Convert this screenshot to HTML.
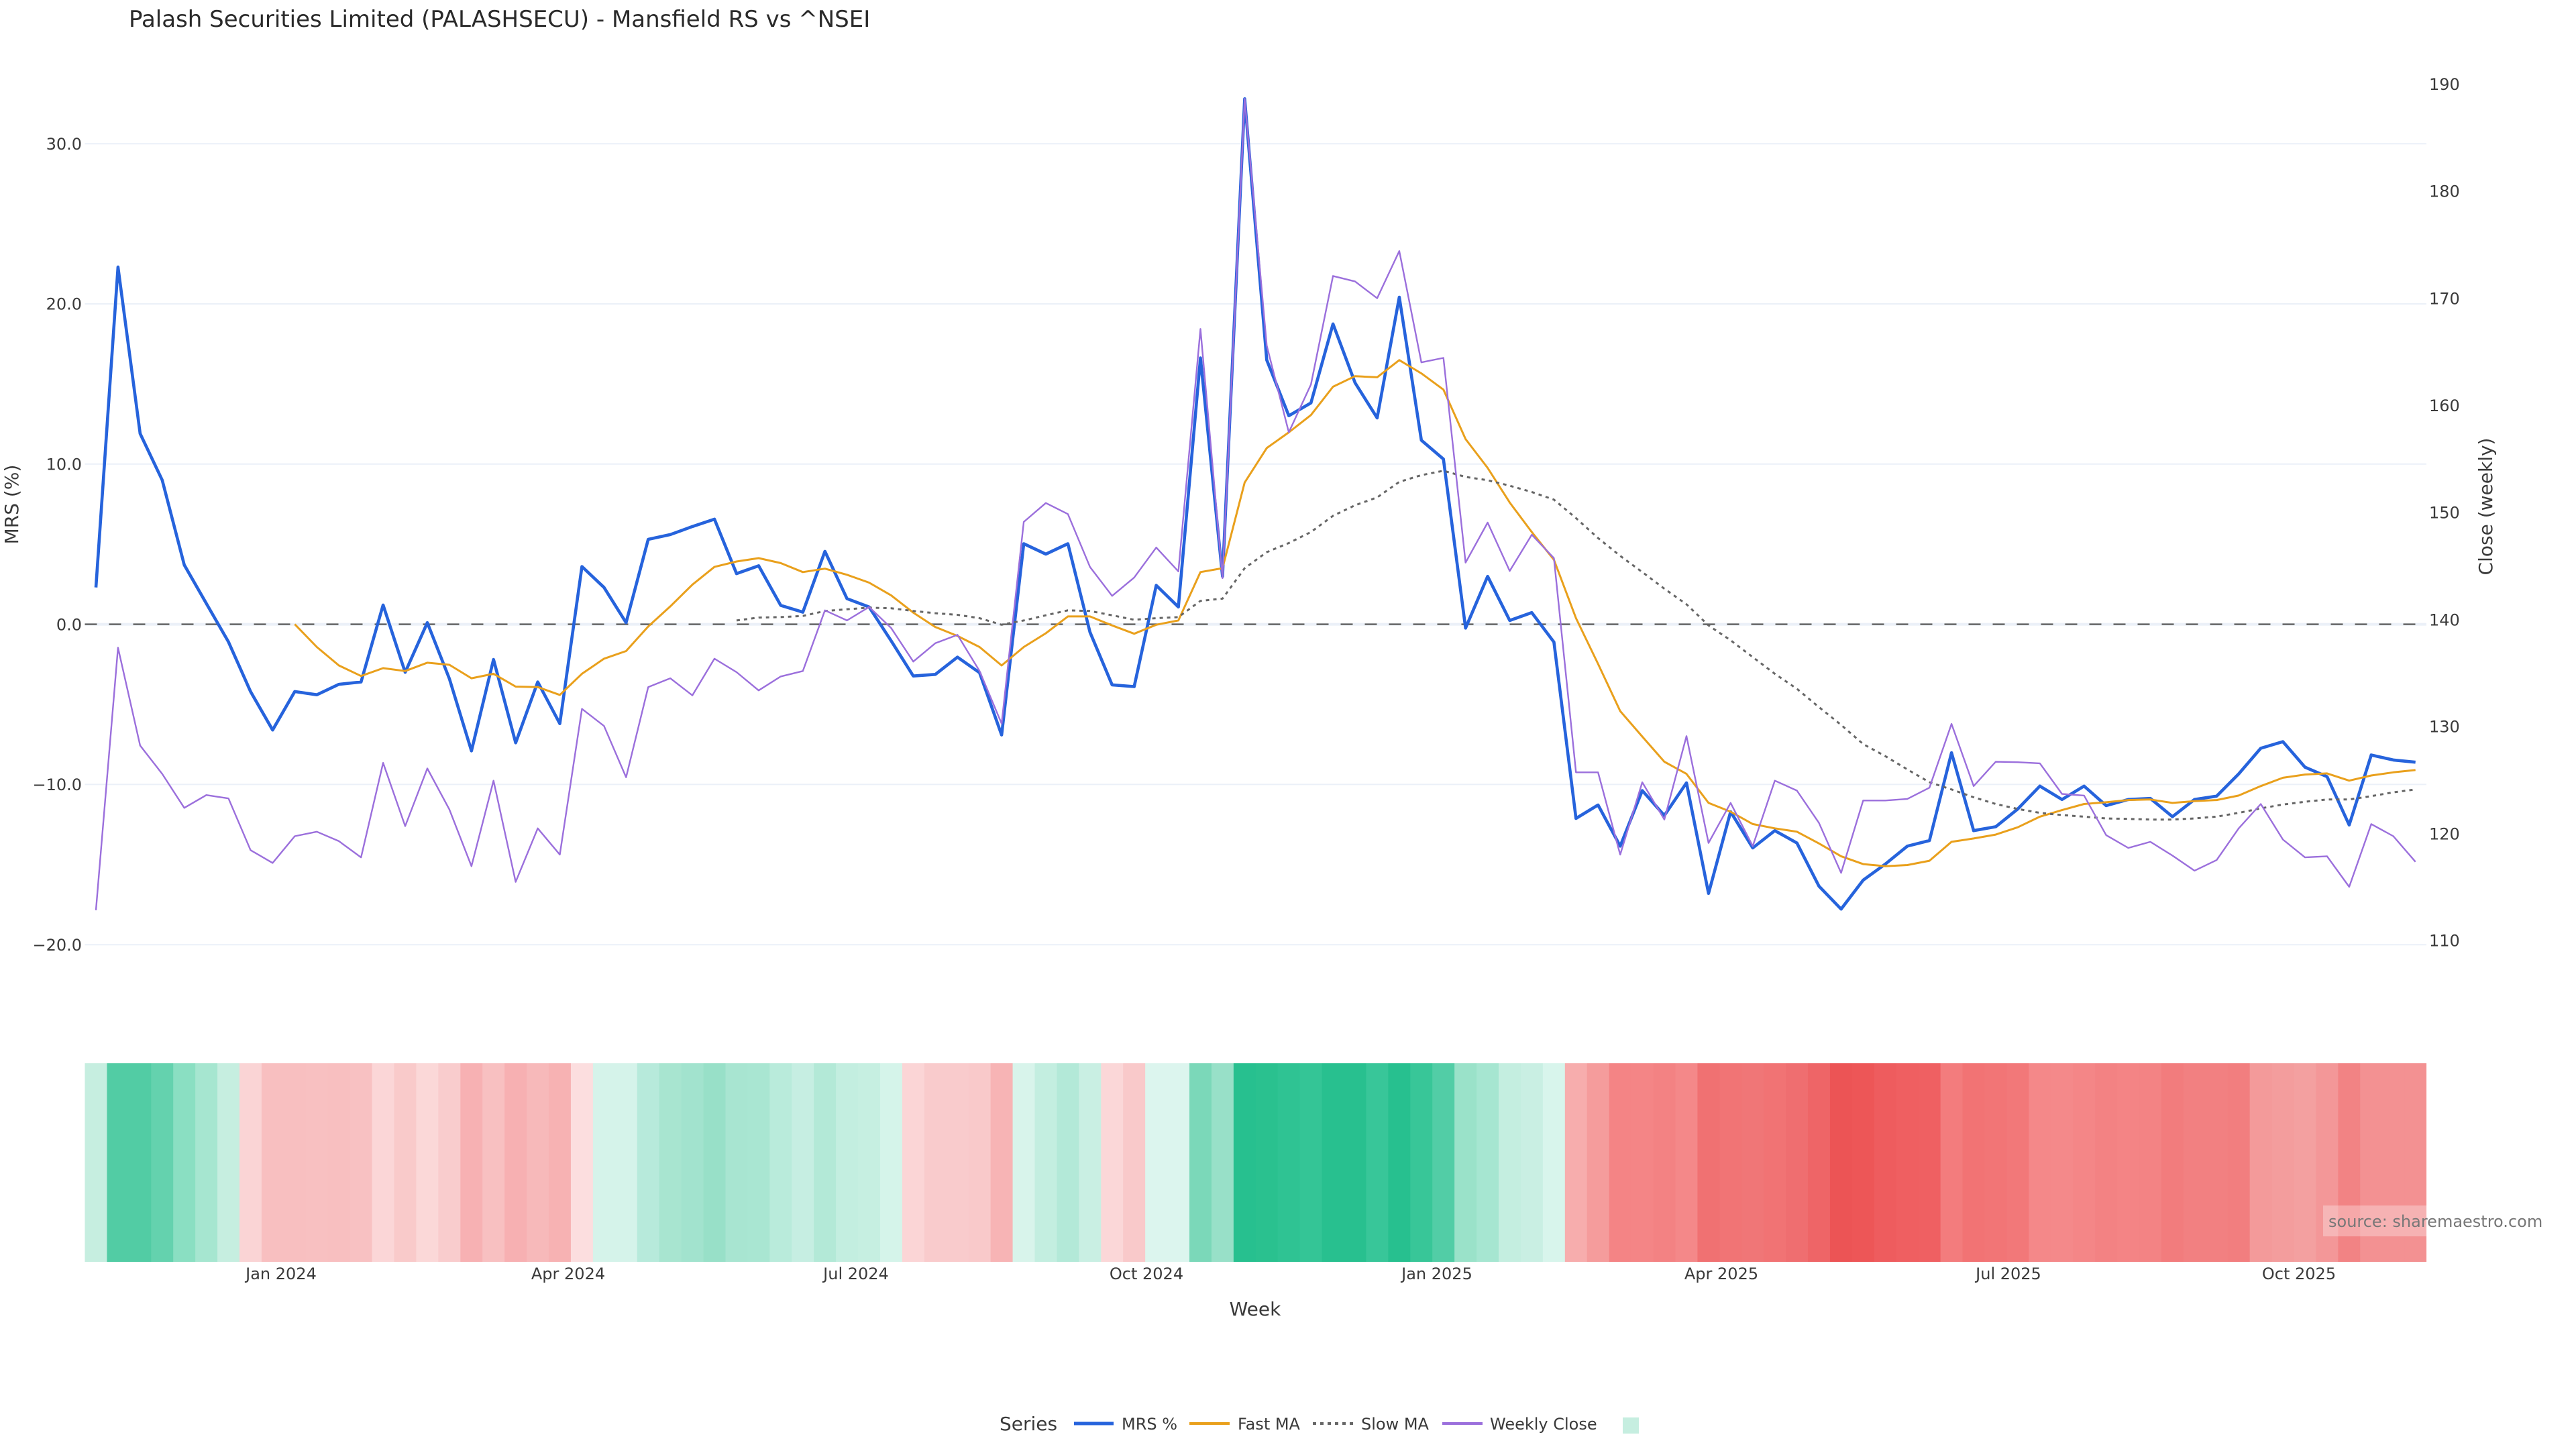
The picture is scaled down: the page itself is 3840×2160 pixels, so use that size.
<!DOCTYPE html>
<html><head><meta charset="utf-8">
<style>
html,body{margin:0;padding:0;background:#fff;}
svg{display:block;}
text{font-family:"DejaVu Sans","Liberation Sans",sans-serif;}
</style></head>
<body>
<svg id="c" width="3840" height="2160" viewBox="0 0 3840 2160" xmlns="http://www.w3.org/2000/svg">
<rect width="3840" height="2160" fill="#fff"/>
<text x="192" y="40" font-size="34" fill="#2a2a2a">Palash Securities Limited (PALASHSECU) - Mansfield RS vs ^NSEI</text>

<g stroke="#EBF0F8" stroke-width="2">
<line x1="126.5" x2="3617" y1="214.2" y2="214.2"/>
<line x1="126.5" x2="3617" y1="453" y2="453"/>
<line x1="126.5" x2="3617" y1="691.8" y2="691.8"/>
<line x1="126.5" x2="3617" y1="1169.4" y2="1169.4"/>
<line x1="126.5" x2="3617" y1="1408.2" y2="1408.2"/>
</g>
<line x1="126.5" x2="3617" y1="930.6" y2="930.6" stroke="#EBF0F8" stroke-width="4"/>
<line x1="126.5" x2="3617" y1="930.6" y2="930.6" stroke="#666" stroke-width="2.5" stroke-dasharray="18 18"/>

<g font-size="24" fill="#3a3a3a" text-anchor="end">
<text x="122" y="222.9">30.0</text>
<text x="122" y="461.7">20.0</text>
<text x="122" y="700.5">10.0</text>
<text x="122" y="939.3">0.0</text>
<text x="122" y="1178.1">−10.0</text>
<text x="122" y="1416.9">−20.0</text>
</g>
<g font-size="24" fill="#3a3a3a">
<text x="3621" y="134.2">190</text>
<text x="3621" y="293.7">180</text>
<text x="3621" y="453.7">170</text>
<text x="3621" y="613.2">160</text>
<text x="3621" y="772.7">150</text>
<text x="3621" y="932.3">140</text>
<text x="3621" y="1091.7">130</text>
<text x="3621" y="1251.4">120</text>
<text x="3621" y="1410.7">110</text>
</g>
<text transform="translate(27,752) rotate(-90)" font-size="28" fill="#3a3a3a" text-anchor="middle">MRS (%)</text>
<text transform="translate(3715,755) rotate(-90)" font-size="28" fill="#3a3a3a" text-anchor="middle">Close (weekly)</text>

<g id="heat"></g>
<g id="lines"></g>

<rect x="3463" y="1797" width="336" height="46" fill="#fff" fill-opacity="0.3"/>
<text x="3471" y="1829" font-size="24" fill="#777">source: sharemaestro.com</text>

<g font-size="24" fill="#3a3a3a" text-anchor="middle">
<text x="419" y="1907">Jan 2024</text>
<text x="847" y="1907">Apr 2024</text>
<text x="1276" y="1907">Jul 2024</text>
<text x="1709" y="1907">Oct 2024</text>
<text x="2142" y="1907">Jan 2025</text>
<text x="2566" y="1907">Apr 2025</text>
<text x="2994" y="1907">Jul 2025</text>
<text x="3427" y="1907">Oct 2025</text>
</g>
<text x="1871" y="1961" font-size="28" fill="#3a3a3a" text-anchor="middle">Week</text>

<text x="1490" y="2132" font-size="28" fill="#3a3a3a">Series</text>
<line x1="1601" x2="1660" y1="2122" y2="2122" stroke="#2663dc" stroke-width="5"/>
<text x="1672" y="2131" font-size="24" fill="#3a3a3a">MRS %</text>
<line x1="1773" x2="1833" y1="2122" y2="2122" stroke="#e9a01c" stroke-width="4"/>
<text x="1845" y="2131" font-size="24" fill="#3a3a3a">Fast MA</text>
<line x1="1957" x2="2017" y1="2122" y2="2122" stroke="#666" stroke-width="4" stroke-dasharray="5 6"/>
<text x="2029" y="2131" font-size="24" fill="#3a3a3a">Slow MA</text>
<line x1="2150" x2="2210" y1="2122" y2="2122" stroke="#9b6fdc" stroke-width="4"/>
<text x="2221" y="2131" font-size="24" fill="#3a3a3a">Weekly Close</text>
<rect x="2419" y="2113" width="24" height="24" fill="#c6eee0"/>
</svg>
<script>
(function(){
var NS="http://www.w3.org/2000/svg";
var X=function(i){return 143+32.93*i;};
var Y=function(v){return 930.6-23.88*v;};
var heat=["#c6eee0","#52cca4","#52cca4","#64d2ae","#8adfc2","#a6e6d0","#c6eee0","#fad4d5","#f8bfc0","#f8bfc0",
"#f8c0c1","#f8bfc0","#f8c1c2","#fbd6d7","#f9caca","#fbd8d8","#f9cccd","#f7b1b3","#f8c0c1","#f7b0b2",
"#f7b9ba","#f7b2b3","#fcdedf","#d5f3ea","#d5f3ea","#b7eadb","#a8e5d0","#a2e3ce","#98e0c8","#a8e5d1",
"#a9e6d2","#b9ebdb","#c6eee2","#b3e9d7","#c3eee0","#c6efe1","#d5f4ea","#fbd5d6","#f9cbcc","#f9cbcc",
"#f9c9ca","#f7b4b5","#d8f4eb","#c3eee0","#b3e9d8","#c9efe3","#fbd7d8","#f9c9ca","#dcf5ee","#dcf5ee",
"#7bd8b9","#98e0c8","#27c08f","#2ac18f","#2fc393","#34c596","#28c08f","#28c08f","#38c699","#27c08f",
"#38c698","#52cda6","#9ae2c9","#a6e6d1","#c4eee0","#c9efe3","#d8f5ec","#f7adad","#f59c9c","#f48485",
"#f48586","#f38283","#f48889","#f07172","#f17475","#f07677","#f17374","#ef6e70","#ee6567","#ec5455",
"#ed5657","#ee5c5e","#ef5f61","#ef6062","#f37c7d","#f27374","#f27576","#f27879","#f48889","#f4898a",
"#f48687","#f38283","#f48485","#f38384","#f27c7d","#f28081","#f28081","#f27e7f","#f39a9a","#f39d9d",
"#f3a0a0","#f39798","#f28384","#f39192","#f39192","#f39192"];
var hg=document.getElementById("heat");
for(var i=0;i<heat.length;i++){
  var r=document.createElementNS(NS,"rect");
  var x0=126.5+32.93*i;
  r.setAttribute("x",x0.toFixed(2));
  r.setAttribute("y","1585");
  r.setAttribute("width",(i==heat.length-1?32.93:33.5).toFixed(2));
  r.setAttribute("height","296");
  r.setAttribute("fill",heat[i]);
  hg.appendChild(r);
}
var mrs=[2.3,22.3,11.9,9.0,3.7,1.3,-1.1,-4.2,-6.6,-4.2,-4.4,-3.75,-3.6,1.2,-3.0,0.1,-3.4,-7.9,-2.2,-7.4,
-3.6,-6.2,3.6,2.3,0.1,5.3,5.6,6.1,6.56,3.16,3.65,1.18,0.76,4.55,1.6,1.08,-1.04,-3.23,-3.13,-2.05,
-3.02,-6.91,5.03,4.38,5.03,-0.49,-3.78,-3.89,2.43,1.08,16.63,2.99,32.8,16.5,13.02,13.82,18.75,15.07,12.88,20.42,
11.49,10.31,-0.24,2.99,0.24,0.73,-1.11,-12.12,-11.28,-13.85,-10.38,-11.94,-9.9,-16.8,-11.7,-13.96,-12.88,-13.65,-16.35,-17.78,
-15.97,-14.97,-13.85,-13.5,-8.02,-12.88,-12.64,-11.53,-10.1,-10.94,-10.1,-11.32,-10.94,-10.87,-12.01,-10.94,-10.73,-9.34,-7.74,-7.33,
-8.92,-9.51,-12.53,-8.16,-8.47,-8.61];
var close=[-17.85,-1.46,-7.57,-9.34,-11.46,-10.66,-10.87,-14.10,-14.90,-13.23,-12.95,-13.54,-14.55,-8.65,-12.60,-9.0,-11.56,-15.10,-9.76,-16.08,
-12.74,-14.38,-5.28,-6.35,-9.55,-3.92,-3.37,-4.44,-2.15,-2.99,-4.13,-3.26,-2.92,0.87,0.24,1.08,-0.24,-2.33,-1.18,-0.66,
-2.92,-6.2,6.39,7.57,6.88,3.58,1.77,2.92,4.79,3.3,18.44,2.88,32.8,17.4,11.98,14.97,21.74,21.4,20.35,23.3,
16.35,16.63,3.85,6.35,3.33,5.59,4.13,-9.24,-9.24,-14.38,-9.86,-12.19,-6.98,-13.65,-11.15,-13.85,-9.76,-10.38,-12.4,-15.52,
-11.0,-11.0,-10.9,-10.2,-6.22,-10.1,-8.58,-8.61,-8.68,-10.59,-10.69,-13.16,-13.96,-13.58,-14.44,-15.38,-14.72,-12.74,-11.22,-13.44,
-14.55,-14.48,-16.39,-12.47,-13.23,-14.83];
var fast=[0.0,-1.42,-2.57,-3.23,-2.74,-2.92,-2.40,-2.53,-3.37,-3.09,-3.89,-3.92,-4.41,-3.09,-2.15,-1.67,-0.14,1.12,2.47,3.58,
3.92,4.13,3.82,3.26,3.47,3.09,2.6,1.8,0.73,-0.17,-0.73,-1.42,-2.57,-1.42,-0.56,0.49,0.49,-0.07,-0.59,-0.03,
0.24,3.26,3.5,8.85,11.0,11.98,13.06,14.83,15.49,15.42,16.49,15.66,14.65,11.56,9.76,7.6,5.76,4.03,0.38,-2.47,
-5.42,-7.01,-8.58,-9.34,-11.15,-11.7,-12.47,-12.74,-12.95,-13.68,-14.48,-14.97,-15.1,-15.03,-14.76,-13.58,-13.37,-13.13,-12.67,-12.01,
-11.6,-11.22,-11.11,-10.97,-10.94,-11.15,-11.04,-10.97,-10.69,-10.1,-9.58,-9.38,-9.31,-9.76,-9.44,-9.24,-9.1];
var slow=[0.24,0.42,0.45,0.52,0.83,0.94,1.04,1.0,0.83,0.69,0.59,0.38,-0.03,0.24,0.56,0.87,0.83,0.56,0.28,0.38,
0.45,1.46,1.6,3.5,4.5,5.07,5.76,6.77,7.43,7.92,8.89,9.31,9.58,9.2,8.99,8.65,8.26,7.78,6.63,5.38,
4.27,3.26,2.22,1.25,-0.07,-1.0,-2.05,-3.09,-4.03,-5.17,-6.28,-7.48,-8.23,-9.06,-9.86,-10.31,-10.8,-11.22,-11.53,-11.77,
-11.91,-12.01,-12.12,-12.15,-12.19,-12.19,-12.12,-12.01,-11.77,-11.49,-11.25,-11.08,-10.94,-10.94,-10.73,-10.49,-10.31];
function mk(arr,start,color,w,dash){
  var d="";
  for(var k=0;k<arr.length;k++){d+=(k?"L":"M")+X(start+k).toFixed(1)+","+Y(arr[k]).toFixed(1);}
  var p=document.createElementNS(NS,"path");
  p.setAttribute("d",d);p.setAttribute("fill","none");p.setAttribute("stroke",color);
  p.setAttribute("stroke-width",w);p.setAttribute("stroke-linejoin","round");
  if(dash)p.setAttribute("stroke-dasharray",dash);
  document.getElementById("lines").appendChild(p);
}
mk(mrs,0,"#2663dc",4.6);
mk(fast,9,"#e9a01c",3);
mk(slow,29,"#666666",3,"5 6");
mk(close,0,"#9b6fdc",2.4);
})();
</script>
</body></html>
